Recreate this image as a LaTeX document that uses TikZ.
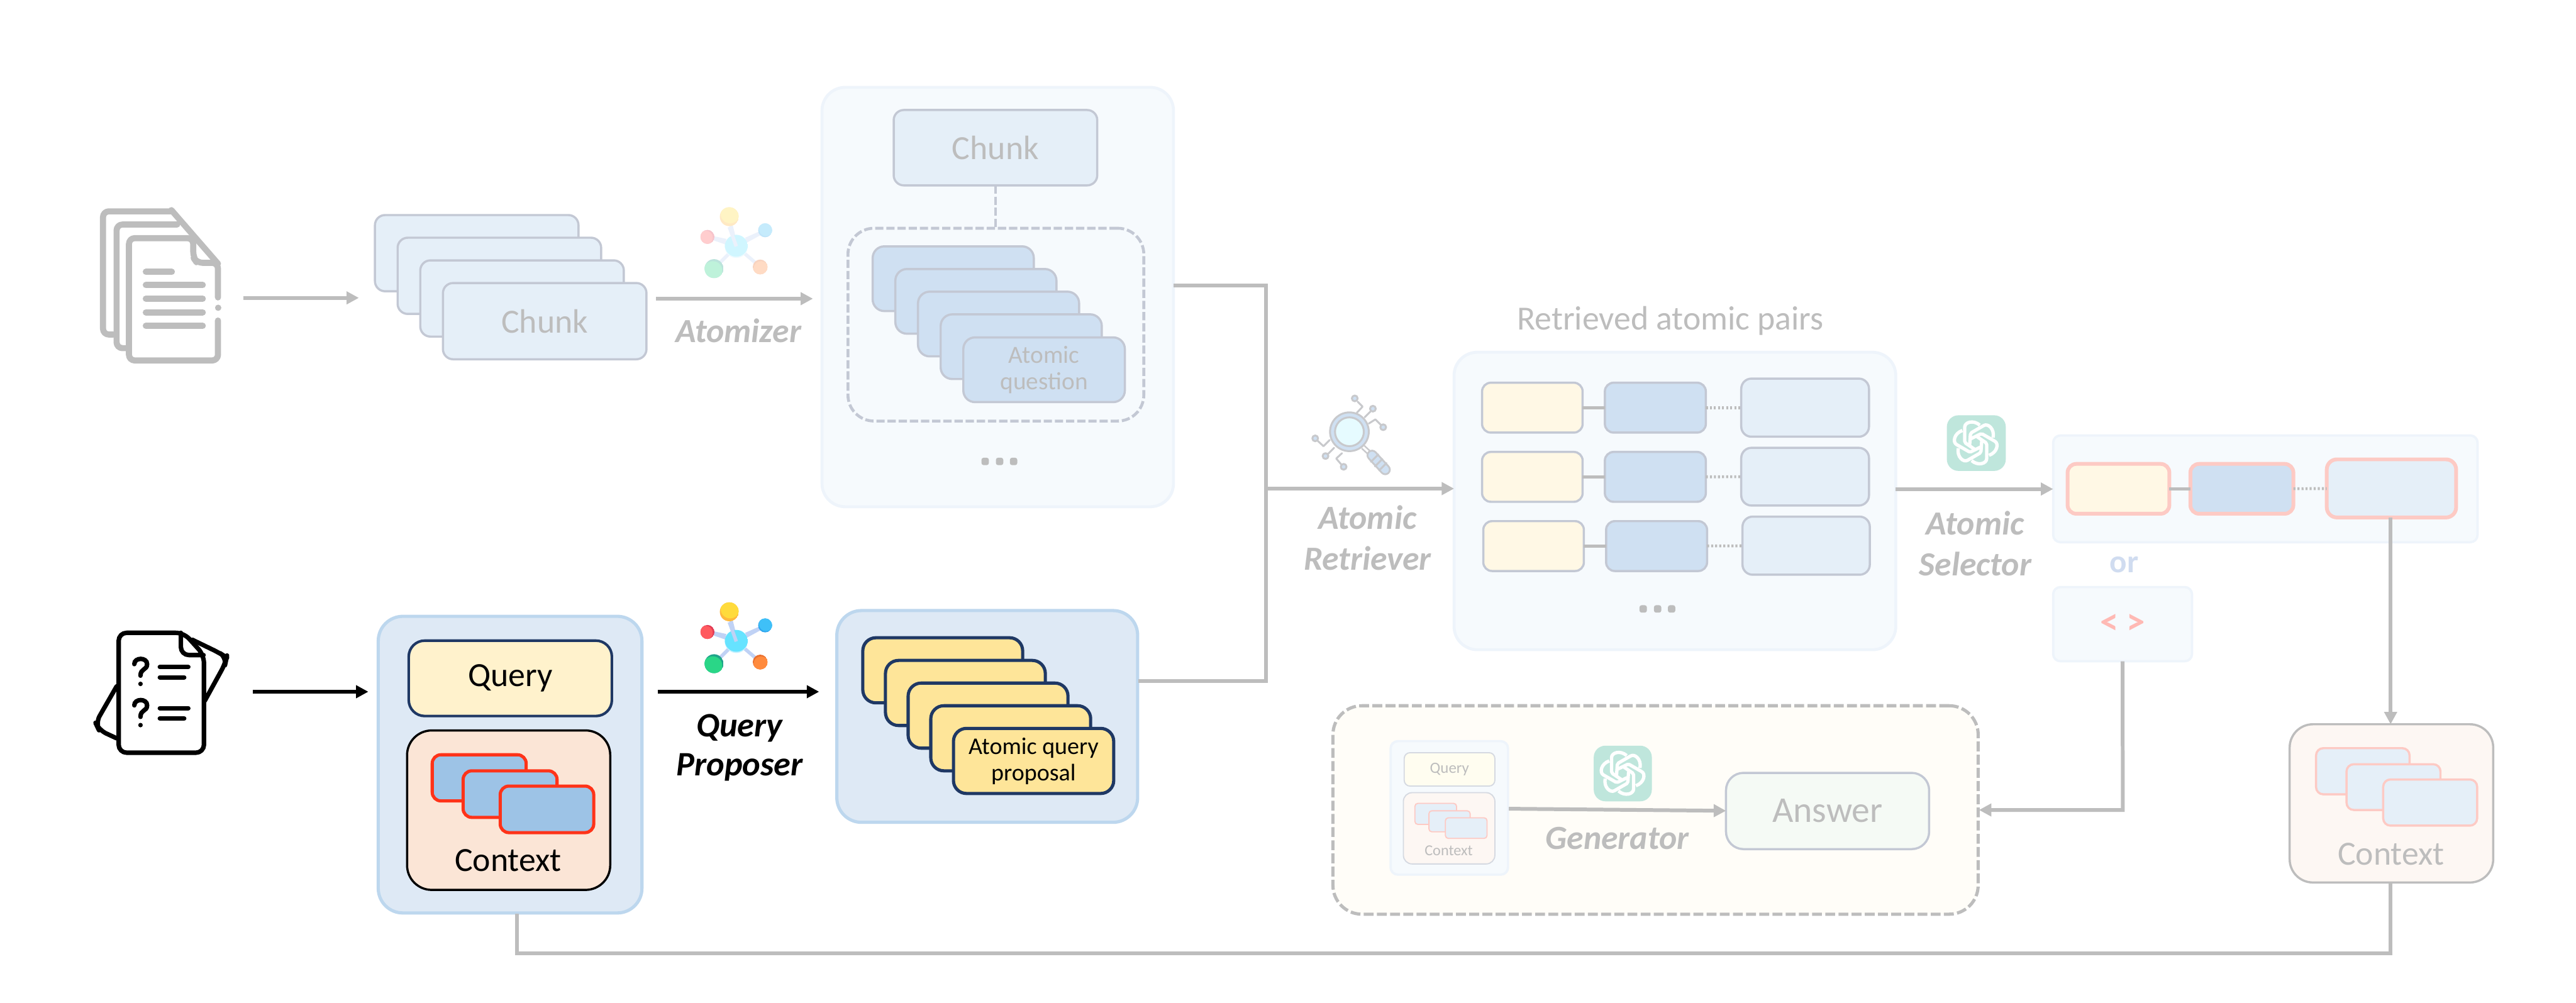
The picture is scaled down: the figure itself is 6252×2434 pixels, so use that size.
\documentclass[tikz,border=0pt]{standalone}
\usepackage{fontspec}
\setmainfont{Carlito}
\usetikzlibrary{arrows.meta}
\definecolor{fade}{HTML}{BDBDBD}
\definecolor{edgeg}{HTML}{C3C8D4}
\definecolor{panelf}{HTML}{F6FAFD}
\definecolor{panele}{HTML}{EEF4FB}
\definecolor{chunkf}{HTML}{E5EFF8}
\definecolor{cardf}{HTML}{CFE0F2}
\definecolor{creamf}{HTML}{FFF8E5}
\definecolor{pinke}{HTML}{FDCAC4}
\definecolor{navy}{HTML}{1F3864}
\definecolor{bluep}{HTML}{DEE9F5}
\definecolor{bluepe}{HTML}{BDD7EE}
\definecolor{queryf}{HTML}{FFF2CC}
\definecolor{ctxf}{HTML}{FBE5D6}
\definecolor{smallf}{HTML}{9DC3E6}
\definecolor{rede}{HTML}{FF3319}
\definecolor{propf}{HTML}{FEE599}
\definecolor{gptf}{HTML}{BFE6DC}
\definecolor{fctxf}{HTML}{FDF7F3}
\definecolor{genf}{HTML}{FFFDF8}
\definecolor{miniqf}{HTML}{FFFDF0}
\definecolor{answerf}{HTML}{F5FAF5}
\definecolor{magf}{HTML}{E6FBFF}
\definecolor{magl}{HTML}{C8C9CC}
\definecolor{molink}{HTML}{C0D2F5}
\definecolor{orc}{HTML}{D0DCF0}
\definecolor{codec}{HTML}{FFB9B4}
\definecolor{cd}{HTML}{C4F1FF}\definecolor{cl}{HTML}{66E3FF}
\definecolor{yd}{HTML}{FFB93E}\definecolor{yl}{HTML}{FFDB3C}
\definecolor{rd}{HTML}{E23B55}\definecolor{rl}{HTML}{FF5A5F}
\definecolor{bd}{HTML}{2FA6EE}\definecolor{bl}{HTML}{3FC0F8}
\definecolor{gd}{HTML}{1FA38A}\definecolor{gl}{HTML}{2AD687}
\definecolor{od}{HTML}{E96F2D}\definecolor{ol}{HTML}{FF8A3D}
\newcommand\fpx[2]{\pgfmathsetmacro\tmpfa{#1*0.2845}\pgfmathsetmacro\tmpfb{#2*0.2845}\fontsize{\tmpfa pt}{\tmpfb pt}\selectfont}
% \bx{name}{style}{x1}{y1}{x2}{y2}{text}
\newcommand\bx[7]{\node[#2,minimum width={((#5)-(#3))*0.01cm},minimum height={((#6)-(#4))*0.01cm}] (#1) at ({((#3)+(#5))/2},{((#4)+(#6))/2}) {#7};}
\newcommand\ball[7]{\begin{scope}\clip (#1,#2) circle [radius=#3];\fill[#4] (#1,#2) circle [radius=#3];\fill[#5] ({#1+(#6)},{#2+(#7)}) circle [radius=#3];\end{scope}}
\newcommand\molecule[3]{\begin{scope}[shift={(#1,#2)},transparency group,opacity=#3]
\draw[mollink] (1787,1557) -- (1770,1490);\draw[mollink] (1787,1557) -- (1855,1520);\draw[mollink] (1787,1557) -- (1720,1534);\draw[mollink] (1787,1557) -- (1736,1608);\draw[mollink] (1787,1557) -- (1843,1605);
\ball{1787}{1557}{28}{cd}{cl}{0}{-3}
\draw[mollink] (1787,1557) -- (1770,1510);\draw[mollink] (1810,1540) -- (1855,1520);\draw[mollink] (1762,1543) -- (1720,1534);
\ball{1770}{1485}{23}{yd}{yl}{2}{-7}
\ball{1717}{1534}{17}{rd}{rl}{-4}{2}
\ball{1857}{1518}{17}{bd}{bl}{2}{-3}
\ball{1733}{1611}{23}{gd}{gl}{-3}{5}
\ball{1845}{1607}{18}{od}{ol}{2}{4}
\end{scope}}
\newcommand\gptknot[1]{\begin{scope}[shift={(#1)}]
\foreach \a in {0,60,120,180,240,300}{
\draw[white,line width=2.3pt,line join=round,rotate=\a] (-3.3,15) -- (-24,1) .. controls (-26,-0.5) and (-26.7,-1) .. (-26.7,-4) -- (-26.7,-38) .. controls (-27,-50) and (-6,-57) .. (10,-43);}
\end{scope}}
\newcommand\qmark[1]{\begin{scope}[shift={(0,#1)}]
\draw[qtext] (326,1612) .. controls (326,1595) and (357,1595) .. (357,1612) .. controls (357,1627) and (341,1622) .. (341,1640);
\fill (341,1660) circle [radius=5.5];
\draw[qtext] (388,1619) -- (457,1619);\draw[qtext] (388,1644) -- (447,1644);
\end{scope}}
\tikzset{
 x=0.01cm,y=-0.01cm,
 nb/.style={rectangle,inner sep=0pt,outer sep=0pt,align=center},
 toppanel/.style={nb,fill=panelf,draw=panele,line width=2pt,rounded corners=16pt},
 softpanel/.style={nb,fill=panelf,draw=panele,line width=1.6pt,rounded corners=5pt},
 chunkbox/.style={nb,fill=chunkf,draw=edgeg,line width=1.5pt,rounded corners=7pt,text=fade,font=\fpx{82}{90}},
 cardbox/.style={nb,fill=cardf,draw=edgeg,line width=1.5pt,rounded corners=8pt,text=fade,font=\fpx{60}{64}},
 dashframe/.style={nb,draw=edgeg,line width=2pt,rounded corners=18pt,dash pattern=on 5.7pt off 2pt},
 rowa/.style={nb,fill=creamf,draw=edgeg,line width=1.5pt,rounded corners=6pt},
 rowb/.style={nb,fill=cardf,draw=edgeg,line width=1.5pt,rounded corners=6pt},
 rowc/.style={nb,fill=chunkf,draw=edgeg,line width=1.5pt,rounded corners=7pt},
 sela/.style={nb,fill=creamf,draw=pinke,line width=2.6pt,rounded corners=6pt},
 selb/.style={nb,fill=cardf,draw=pinke,line width=2.6pt,rounded corners=6pt},
 selc/.style={nb,fill=chunkf,draw=pinke,line width=2.6pt,rounded corners=7pt},
 bluepanel/.style={nb,fill=bluep,draw=bluepe,line width=2.2pt,rounded corners=17pt},
 qbox/.style={nb,fill=queryf,draw=navy,line width=1.8pt,rounded corners=11pt,font=\fpx{82}{90}},
 cbox/.style={nb,fill=ctxf,draw=black,line width=1.5pt,rounded corners=17pt},
 smallbox/.style={nb,fill=smallf,draw=rede,line width=2.2pt,rounded corners=6pt},
 propbox/.style={nb,fill=propf,draw=navy,line width=2.2pt,rounded corners=9pt,font=\fpx{58}{64}},
 fadectx/.style={nb,fill=fctxf,draw=fade,line width=1.5pt,rounded corners=16pt},
 fadesmall/.style={nb,fill=chunkf,draw=pinke,line width=1.5pt,rounded corners=5pt},
 genframe/.style={nb,fill=genf,draw=fade,line width=2.2pt,rounded corners=20pt,dash pattern=on 6.8pt off 2.3pt},
 miniqs/.style={nb,fill=miniqf,draw=edgeg!70,line width=.8pt,rounded corners=4pt,text=fade,font=\fpx{38}{40}},
 minics/.style={nb,fill=fctxf,draw=edgeg!70,line width=.8pt,rounded corners=6pt},
 minis/.style={nb,fill=chunkf,draw=pinke,line width=.8pt,rounded corners=2pt},
 answerbox/.style={nb,fill=answerf,draw=edgeg,line width=1.5pt,rounded corners=12pt,text=fade,font=\fpx{88}{90}},
 gptbox/.style={nb,fill=gptf,rounded corners=8pt},
 opname/.style={nb,font=\bfseries\itshape\fpx{82}{99},text=fade},
 opblack/.style={nb,font=\bfseries\itshape\fpx{83}{95},text=black},
 plain/.style={nb,text=fade,font=\fpx{82}{84}},
 dotnode/.style={nb,fill=fade,rounded corners=1.5pt,minimum width=18*0.01cm,minimum height=18*0.01cm},
 fadearrow/.style={draw=fade,line width=2.6pt,-{Triangle[length=8.5pt,width=8.5pt]}},
 blackarrow/.style={draw=black,line width=2.85pt,-{Triangle[length=8.5pt,width=8.5pt]}},
 fadeline/.style={draw=fade,line width=2.6pt},
 rowlink/.style={draw=fade,line width=2pt},
 rowdots/.style={draw=fade,line width=2pt,dash pattern=on 1.4pt off 1.4pt},
 dashlink/.style={draw=edgeg,line width=2pt,dash pattern=on 5.7pt off 2pt},
 docline/.style={draw=fade,line width=4.2pt,line cap=round,line join=round,rounded corners=4pt},
 doctext/.style={draw=fade,line width=4.3pt,line cap=round},
 qline/.style={draw=black,line width=3.1pt,line cap=round,line join=round,rounded corners=5.5pt},
 qtext/.style={draw=black,line width=3.1pt,line cap=round},
 mollink/.style={draw=molink,line width=2.4pt},
 mag/.style={draw=magl,line width=1.3pt,line join=round,line cap=round},
}
\begin{document}
\begin{tikzpicture}
\useasboundingbox (0,0) rectangle (6252,2434);
\fill[white] (0,0) rectangle (6252,2434);

% --- document icon ---
\coordinate (docs) at (540,723);
\draw[docline] (275,812) -- (250,812) -- (250,513) -- (416,513);
\draw[docline] (307,845) -- (283,845) -- (283,545) -- (430,545);
\draw[docline] (416,510) -- (529,640);
\draw[docline] (529,722) -- (529,638) -- (478,638) -- (469,625) -- (469,578) -- (313,578) -- (313,875) -- (529,875) -- (529,778);
\draw[doctext] (529,747) -- (529,747.1);
\foreach \yy/\xe in {660/417,692/492,725/492,758/492,791/492}{\draw[doctext] (354,\yy) -- (\xe,\yy);}

% --- chunk stack ---
\foreach \i in {0,1,2}{\bx{chunk\i}{chunkbox}{910+\i*55}{522+\i*55}{1404+\i*55}{707+\i*55}{}}
\bx{chunk3}{chunkbox}{1075}{687}{1569}{872}{Chunk}
\coordinate (a1s) at (590,723);\coordinate (a1e) at (871,723);
\draw[fadearrow] (a1s) -- (a1e);
\coordinate (a2s) at (1592,725);\coordinate (a2e) at (1973,725);
\draw[fadearrow] (a2s) -- (a2e);
\molecule{0}{-959}{0.3}
\node[opname] (atomizer) at (1792,803) {Atomizer};

% --- top panel ---
\bx{toppanel}{toppanel}{1995}{212}{2848}{1230}{}
\bx{dashed}{dashframe}{2058}{554}{2776}{1022}{}
\bx{chunktop}{chunkbox}{2169}{267}{2663}{450}{Chunk}
\draw[dashlink] (chunktop.south) -- (dashed.north -| chunktop.south);
\foreach \i in {0,1,2,3}{\bx{q\i}{cardbox}{2118+\i*55}{598+\i*55}{2509+\i*55}{755+\i*55}{}}
\bx{q4}{cardbox}{2338}{819}{2730}{976}{Atomic\\question}
\foreach \xx in {2391,2426,2460}{\node[dotnode] (td\xx) at (\xx,1120) {};}

% --- query document icon ---
\draw[qline] (467,1553) -- (535,1586) -- (550,1596) -- (547,1610) -- (497,1701);
\draw[qline] (283,1666) -- (232,1755) -- (240,1772) -- (283,1792);
\draw[qline,fill=white] (288,1536) -- (446,1536) -- (495,1590) -- (495,1827) -- (288,1827) -- cycle;
\draw[qline] (439,1536) -- (439,1590) -- (494,1590);
\qmark{0}
\qmark{100}

\bx{inpanel}{bluepanel}{918}{1496}{1558}{2216}{}
\bx{query}{qbox}{992}{1555}{1485}{1738}{Query}
\bx{context}{cbox}{988}{1773}{1481}{2160}{}
\bx{s1}{smallbox}{1049}{1832}{1277}{1944}{}
\bx{s2}{smallbox}{1124}{1871}{1352}{1984}{}
\bx{s3}{smallbox}{1214}{1908}{1441}{2021}{}
\node[nb,font=\fpx{82}{82}] (ctxlabel) at (1233,2089) {Context};
\coordinate (b1s) at (614,1679);\coordinate (b1e) at (894,1679);
\draw[blackarrow] (b1s) -- (b1e);
\coordinate (b2s) at (1596,1679);\coordinate (b2e) at (1988,1679);
\draw[blackarrow] (b2s) -- (b2e);
\molecule{0}{0}{1}
\node[opblack] (qp) at (1795,1815) {Query\\Proposer};

\bx{prop}{bluepanel}{2031}{1482}{2761}{1996}{}
\foreach \i in {0,1,2,3}{\bx{p\i}{propbox}{2094+\i*55}{1548+\i*55}{2482+\i*55}{1706+\i*55}{}}
\bx{p4}{propbox}{2314}{1768}{2703}{1926}{Atomic query\\proposal}

% --- merge ---
\coordinate (m1) at (2853,693);\coordinate (m2) at (3072,693);
\coordinate (m3) at (2767,1653);\coordinate (m4) at (3072,1653);
\coordinate (m5) at (3072,1186);
\draw[fadeline,line cap=rect] (m1) -- (m2) -- (m4) -- (m3);
\bx{retr}{toppanel}{3529}{855}{4601}{1577}{}
\draw[fadearrow] (m5) -- (retr.west |- m5);
\node[plain] (rtitle) at (4054,779) {Retrieved atomic pairs};
\node[opname] (ar) at (3319,1306) {Atomic\\Retriever};

% magnifier
\foreach \a/\b/\c/\d/\e/\f in {3293/1002/3307/987/3295/975,3312/1013/3320/1005/3327/998,3322/1028/3338/1018/3352/1032,3227/1068/3212/1083/3198/1070,3238/1087/3230/1095/3223/1102,3257/1100/3243/1113/3255/1127}{\draw[mag] (\a,\b) -- (\c,\d) -- (\e,\f);}
\foreach \a/\b in {3288/967,3332/992,3357/1037,3192/1064,3217/1107,3261/1133}{\draw[mag,fill=cardf] (\a,\b) circle [radius=7];}
\draw[draw=magl,line width=3.6pt] (3308,1085) -- (3322,1098);
\draw[draw=white,line width=1.4pt] (3308,1085) -- (3322,1098);
\draw[draw=magl,line width=7.6pt,line cap=round] (3330,1105) -- (3362,1140);
\draw[draw=cardf,line width=5pt,line cap=round] (3330,1105) -- (3362,1140);
\foreach \a/\b in {3336/1112,3346/1123,3356/1133}{\draw[mag] ({\a+9},{\b-9}) -- ({\a-9},{\b+9});}
\draw[mag,fill=cardf] (3275,1048) circle [radius=47];
\draw[mag,fill=magf] (3275,1048) circle [radius=35];

\bx{ra1}{rowa}{3597}{929}{3841}{1050}{}\bx{rb1}{rowb}{3895}{929}{4140}{1050}{}\bx{rc1}{rowc}{4226}{919}{4536}{1060}{}
\bx{ra2}{rowa}{3597}{1097}{3841}{1218}{}\bx{rb2}{rowb}{3895}{1097}{4140}{1218}{}\bx{rc2}{rowc}{4226}{1087}{4536}{1227}{}
\bx{ra3}{rowa}{3600}{1265}{3844}{1386}{}\bx{rb3}{rowb}{3898}{1265}{4143}{1386}{}\bx{rc3}{rowc}{4229}{1254}{4538}{1395}{}
\foreach \i in {1,2,3}{\draw[rowlink] (ra\i) -- (rb\i);\draw[rowdots] (rb\i) -- (rc\i);}
\foreach \xx in {3988,4023,4057}{\node[dotnode] (rd\xx) at (\xx,1478) {};}

% --- selector ---
\bx{selpanel}{softpanel}{4983}{1057}{6013}{1316}{}
\coordinate (s0) at (4601,1187);
\draw[fadearrow] (s0) -- (selpanel.west |- s0);
\bx{gpt1}{gptbox}{4725}{1008}{4868}{1143}{}
\gptknot{4795,1075}
\node[opname] (as) at (4794,1319) {Atomic\\Selector};
\bx{sa}{sela}{5018}{1126}{5265}{1247}{}
\bx{sb}{selb}{5316}{1126}{5566}{1247}{}
\bx{sc}{selc}{5647}{1115}{5961}{1256}{}
\draw[rowlink] (sa) -- (sb);
\draw[rowdots] (sb) -- (sc);
\node[nb,text=orc,font=\bfseries\fpx{78}{80}] (or) at (5155,1370) {or};
\bx{code}{softpanel}{4983}{1425}{5320}{1605}{\textcolor{codec}{\bfseries\fpx{90}{90}< >}}

% --- right context ---
\bx{ctxr}{fadectx}{5557}{1758}{6051}{2142}{}
\bx{fs1}{fadesmall}{5621}{1816}{5848}{1928}{}
\bx{fs2}{fadesmall}{5695}{1855}{5923}{1966}{}
\bx{fs3}{fadesmall}{5784}{1892}{6012}{2004}{}
\node[nb,text=fade,font=\fpx{82}{82}] (ctxrl) at (5803,2073) {Context};
\coordinate (dn) at (5802,1256);
\draw[fadearrow] (dn) -- (ctxr.north -| dn);

% --- generator ---
\bx{gen}{genframe}{3235}{1713}{4801}{2219}{}
\bx{mini}{softpanel}{3375}{1799}{3660}{2123}{}
\bx{miniq}{miniqs}{3408}{1827}{3628}{1908}{Query}
\bx{minic}{minics}{3406}{1924}{3628}{2097}{}
\bx{ms1}{minis}{3434}{1950}{3535}{2001}{}
\bx{ms2}{minis}{3468}{1968}{3568}{2019}{}
\bx{ms3}{minis}{3508}{1985}{3609}{2035}{}
\node[nb,text=fade,font=\fpx{37}{40}] (mcl) at (3516,2065) {Context};
\bx{gpt2}{gptbox}{3868}{1810}{4009}{1945}{}
\gptknot{3938,1877}
\bx{answer}{answerbox}{4189}{1876}{4682}{2061}{Answer}
\coordinate (g1) at (3662,1963);\coordinate (g2) at (4189,1968);
\draw[fadearrow] (g1) -- (g2);
\node[opname] (gl) at (3925,2035) {Generator};

% connector from code block to generator
\coordinate (c1) at (5152,1966);\coordinate (c2) at (4803,1966);
\draw[fadearrow,line join=miter] (code.south) -- (c1) -- (c2);
% loop from input panel to right context
\coordinate (l1) at (5802,2314);\coordinate (l2) at (1255,2314);\coordinate (l3) at (1255,2218);\coordinate (l0) at (5802,2142);
\draw[fadeline,line join=miter] (l0) -- (l1) -- (l2) -- (l3);
\end{tikzpicture}
\end{document}
